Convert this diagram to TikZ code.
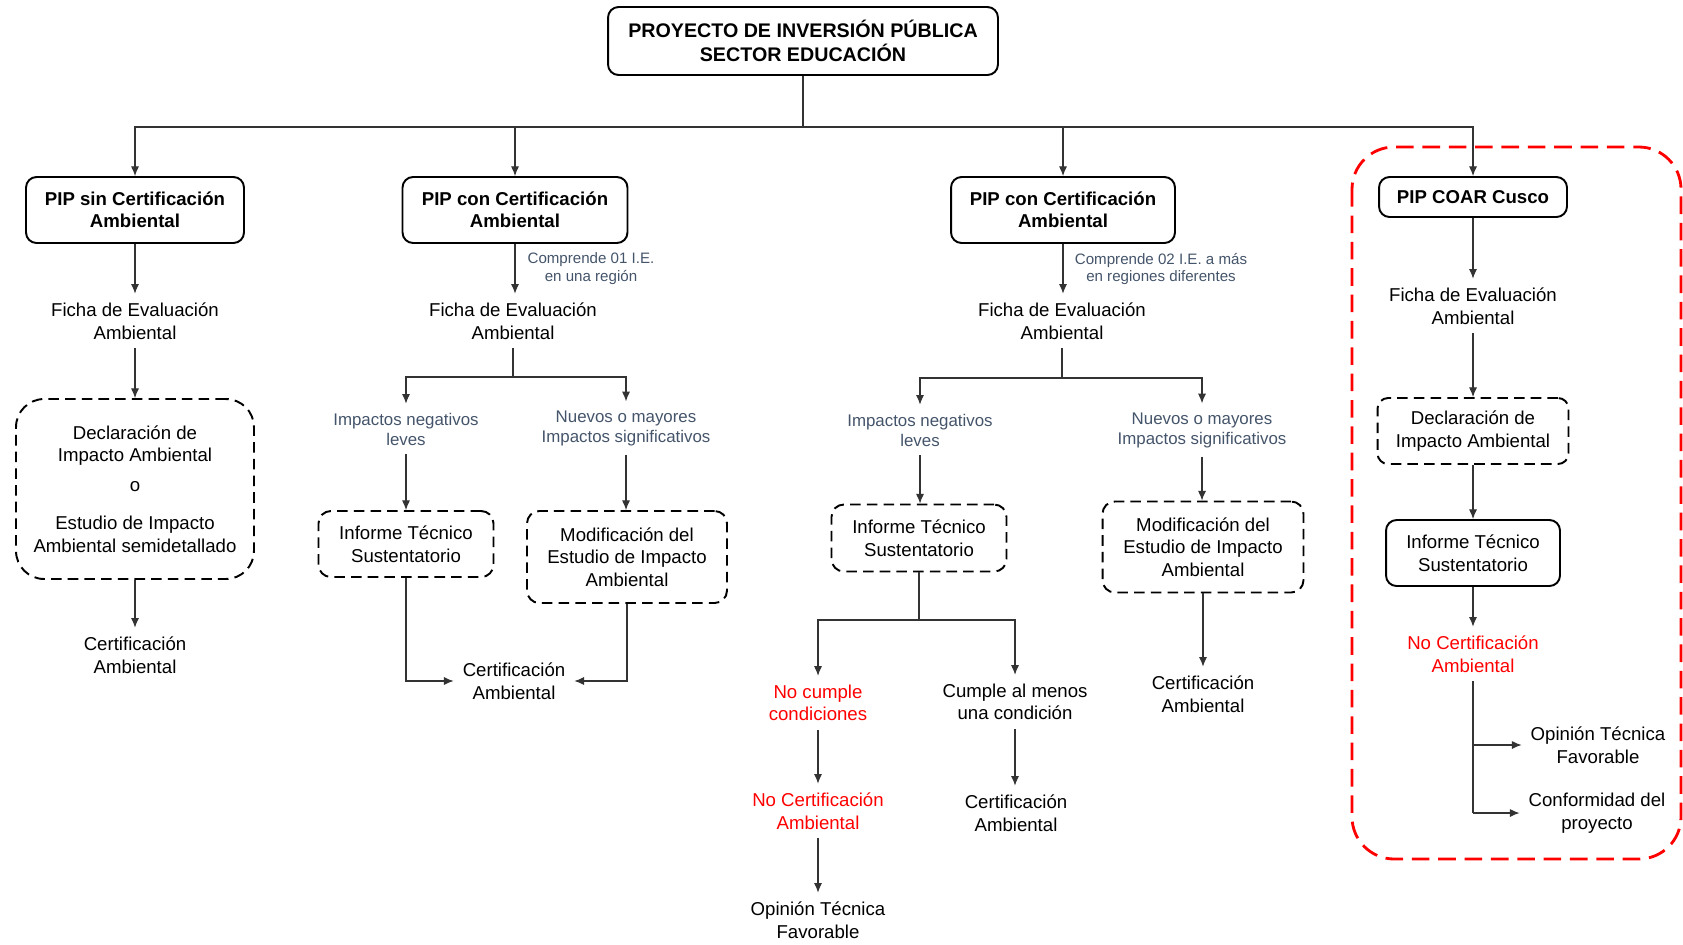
\documentclass[tikz,border=0pt]{standalone}
\usepackage{fontspec}
\setmainfont{Liberation Sans}
\usetikzlibrary{arrows.meta}
\definecolor{notegrey}{HTML}{44546A}
\definecolor{linkgrey}{HTML}{333333}

\begin{document}
\begin{tikzpicture}[x=0.02cm,y=-0.02cm,
  txt/.style={font=\fontsize{10.6}{12.8}\selectfont,align=center,inner sep=5pt},
  headbox/.style={txt,font=\fontsize{10.6}{12.8}\selectfont\bfseries,draw,line width=1.1pt,rounded corners=6pt,inner sep=0pt},
  dashbox/.style={txt,draw,line width=1.1pt,dash pattern=on 6pt off 3.5pt,rounded corners=7pt,inner sep=0pt},
  solidbox/.style={txt,draw,line width=1.1pt,rounded corners=6pt,inner sep=0pt},
  note/.style={font=\fontsize{9.6}{11.4}\selectfont,text=notegrey,align=center,inner sep=5pt},
  tinynote/.style={font=\fontsize{8.6}{10.2}\selectfont,text=notegrey,align=center,inner sep=1pt},
  alert/.style={txt,text=red},
  link/.style={-{Latex[length=5.5pt,width=4.6pt]},line width=0.6pt,draw=linkgrey},
  wire/.style={line width=0.6pt,draw=linkgrey}]
  \useasboundingbox (0,0) rectangle (1683,944);

  \node[headbox,font=\fontsize{11.2}{14}\selectfont\bfseries,minimum width=7.8cm,minimum height=1.36cm] (proyecto) at (803,41)
    {PROYECTO DE INVERSIÓN PÚBLICA\\SECTOR EDUCACIÓN};
  \coordinate (bus) at (803,127);

  % PIP sin certificacion
  \node[headbox,minimum width=4.36cm,minimum height=1.32cm] (pipSin) at (135,210) {PIP sin Certificación\\Ambiental};
  \node[txt] (fichaA) at (135,321) {Ficha de Evaluación\\Ambiental};
  \node[dashbox,rounded corners=16pt,minimum width=4.76cm,minimum height=3.6cm] (diaA) at (135,489)
    {Declaración de\\Impacto Ambiental\\[4pt]o\\[9pt]Estudio de Impacto\\Ambiental semidetallado};
  \node[txt] (certA) at (135,655) {Certificación\\Ambiental};

  % PIP con certificacion, una region
  \node[headbox,minimum width=4.5cm,minimum height=1.32cm] (pipUna) at (515,210) {PIP con Certificación\\Ambiental};
  \node[tinynote] (notaUna) at (591,269) {Comprende 01 I.E.\\en una región};
  \node[txt] (fichaB) at (513,321) {Ficha de Evaluación\\Ambiental};
  \node[note] (leveB) at (406,429) {Impactos negativos\\leves};
  \node[note] (mayorB) at (626,428) {Nuevos o mayores\\Impactos significativos};
  \node[dashbox,minimum width=3.5cm,minimum height=1.32cm] (itsB) at (406,544) {Informe Técnico\\Sustentatorio};
  \node[dashbox,minimum width=4cm,minimum height=1.84cm] (modB) at (627,557) {Modificación del\\Estudio de Impacto\\Ambiental};
  \node[txt] (certB) at (514,681) {Certificación\\Ambiental};

  % PIP con certificacion, varias regiones
  \node[headbox,minimum width=4.48cm,minimum height=1.32cm] (pipVarias) at (1063,210) {PIP con Certificación\\Ambiental};
  \node[tinynote] (notaVarias) at (1161,269) {Comprende 02 I.E. a más\\en regiones diferentes};
  \node[txt] (fichaC) at (1062,321) {Ficha de Evaluación\\Ambiental};
  \node[note] (leveC) at (920,430) {Impactos negativos\\leves};
  \node[note] (mayorC) at (1202,430) {Nuevos o mayores\\Impactos significativos};
  \node[dashbox,minimum width=3.5cm,minimum height=1.34cm] (itsC) at (919,538) {Informe Técnico\\Sustentatorio};
  \node[dashbox,minimum width=4.02cm,minimum height=1.82cm] (modC) at (1203,547) {Modificación del\\Estudio de Impacto\\Ambiental};
  \node[alert] (noCumple) at (818,703) {No cumple\\condiciones};
  \node[txt] (cumple) at (1015,702) {Cumple al menos\\una condición};
  \node[alert] (noCertC) at (818,811) {No Certificación\\Ambiental};
  \node[txt] (opinionC) at (818,920) {Opinión Técnica\\Favorable};
  \node[txt] (certCumple) at (1016,813) {Certificación\\Ambiental};
  \node[txt] (certMod) at (1203,694) {Certificación\\Ambiental};

  % PIP COAR Cusco
  \draw[red,line width=1.6pt,dash pattern=on 10pt off 5pt,rounded corners=24pt] (1352,147) rectangle (1681,859);
  \node[headbox,minimum width=3.76cm,minimum height=0.8cm] (coar) at (1473,197) {PIP COAR Cusco};
  \node[txt] (fichaD) at (1473,306) {Ficha de Evaluación\\Ambiental};
  \node[dashbox,rounded corners=6pt,minimum width=3.82cm,minimum height=1.32cm] (diaD) at (1473,431) {Declaración de\\Impacto Ambiental};
  \node[solidbox,minimum width=3.48cm,minimum height=1.32cm] (itsD) at (1473,553) {Informe Técnico\\Sustentatorio};
  \node[alert] (noCertD) at (1473,654) {No Certificación\\Ambiental};
  \node[txt] (opinionD) at (1598,745) {Opinión Técnica\\Favorable};
  \node[txt] (conforme) at (1597,813) {Conformidad del\\proyecto};

  \draw[wire] (proyecto.south) -- (bus);
  \draw[link] (bus) -| (pipSin.north);
  \draw[link] (bus) -| (pipUna.north);
  \draw[link] (bus) -| (pipVarias.north);
  \draw[link] (bus) -| (coar.north);

  \draw[link] (pipSin) -- (fichaA);
  \draw[link] (fichaA) -- (diaA);
  \draw[link] (diaA) -- (certA);

  \draw[link] (pipUna.south) -- (pipUna.south |- fichaB.north);
  \draw[wire] (fichaB.south) -- (fichaB.south |- 0,377) coordinate (splitB);
  \draw[link] (splitB) -| (leveB.north);
  \draw[link] (splitB) -| (mayorB.north);
  \draw[link] (leveB.south) -- (leveB.south |- itsB.north);
  \draw[link] (mayorB.south) -- (mayorB.south |- modB.north);
  \draw[link] (itsB.south) |- (certB.west);
  \draw[link] (modB.south) |- (certB.east);

  \draw[link] (pipVarias.south) -- (pipVarias.south |- fichaC.north);
  \draw[wire] (fichaC.south) -- (fichaC.south |- 0,378) coordinate (splitC);
  \draw[link] (splitC) -| (leveC.north);
  \draw[link] (splitC) -| (mayorC.north);
  \draw[link] (leveC.south) -- (leveC.south |- itsC.north);
  \draw[link] (mayorC.south) -- (mayorC.south |- modC.north);
  \draw[wire] (itsC.south) -- (itsC.south |- 0,620) coordinate (splitIts);
  \draw[link] (splitIts) -| (noCumple.north);
  \draw[link] (splitIts) -| (cumple.north);
  \draw[link] (noCumple) -- (noCertC);
  \draw[link] (noCertC) -- (opinionC);
  \draw[link] (cumple.south) -- (cumple.south |- certCumple.north);
  \draw[link] (modC) -- (certMod);

  \draw[link] (coar) -- (fichaD);
  \draw[link] (fichaD) -- (diaD);
  \draw[link] (diaD) -- (itsD);
  \draw[link] (itsD) -- (noCertD);
  \draw[wire] (noCertD.south) -- (noCertD.south |- conforme.west);
  \draw[link] (noCertD.south |- opinionD.west) -- (opinionD.west);
  \draw[link] (noCertD.south |- conforme.west) -- (conforme.west);
\end{tikzpicture}
\end{document}
